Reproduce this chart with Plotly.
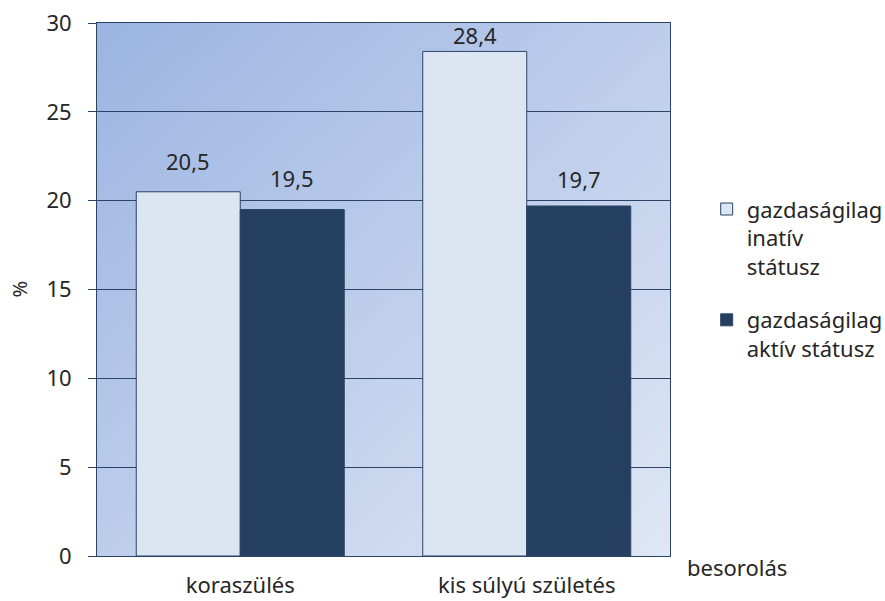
import base64
import plotly.graph_objects as go

# --- data ---------------------------------------------------------------
categories = ["koraszülés", "kis súlyú születés"]
inactive = [20.5, 28.4]   # gazdaságilag inaktív státusz
active = [19.5, 19.7]     # gazdaságilag aktív státusz
series_names = ["gazdaságilag<br>inatív<br>státusz", "gazdaságilag<br>aktív státusz"]
y_ticks = [0, 5, 10, 15, 20, 25, 30]

# --- styling --------------------------------------------------------------
FONT = "Noto Sans"
FS = 22
TEXT = "#262626"
EDGE = "#2b4466"
LIGHT = "#dce6f2"
DARK = "#243f60"
BARGAP = 0.274
# vertical distance (px) of each value label above its bar top
label_lift = {0: [31, 16.5], 1: [32, 27]}

svg = (
    '<svg xmlns="http://www.w3.org/2000/svg" width="200" height="200" '
    'preserveAspectRatio="none"><defs><linearGradient id="g" x1="0" y1="0" '
    'x2="1" y2="1"><stop offset="0" stop-color="#9bb4e1"/>'
    '<stop offset="1" stop-color="#dfe7f5"/></linearGradient></defs>'
    '<rect width="200" height="200" fill="url(#g)"/></svg>'
)
gradient_uri = "data:image/svg+xml;base64," + base64.b64encode(svg.encode()).decode()

fig = go.Figure()
for k, (vals, name, color) in enumerate([(inactive, series_names[0], LIGHT),
                                         (active, series_names[1], DARK)]):
    fig.add_trace(go.Bar(
        x=categories, y=vals, name=name, legendgroup=f"g{k}",
        marker=dict(color=color, line=dict(color=EDGE, width=1)),
        hoverinfo="x+y",
    ))

# value labels above the bars
half = (1 - BARGAP) / 4
annotations = []
for s, vals in enumerate([inactive, active]):
    for i, v in enumerate(vals):
        annotations.append(dict(
            x=i + (-half if s == 0 else half), y=v, xref="x", yref="y",
            text=f"{v:.1f}".replace(".", ","), showarrow=False,
            yanchor="middle", yshift=label_lift[s][i],
            font=dict(family=FONT, size=FS, color=TEXT),
        ))

annotations.append(dict(
    x=1.027, y=-0.021, xref="paper", yref="paper", xanchor="left", yanchor="middle",
    text="besorolás", showarrow=False, font=dict(family=FONT, size=FS, color=TEXT),
))
annotations.append(dict(
    x=-0.136, y=0.5, xref="paper", yref="paper", xanchor="center", yanchor="middle",
    text="%", textangle=-90, showarrow=False, font=dict(family=FONT, size=20, color=TEXT),
))

fig.update_layout(
    width=885, height=601,
    margin=dict(l=97, r=215, t=23, b=45, autoexpand=False),
    paper_bgcolor="white", plot_bgcolor="rgba(0,0,0,0)",
    barmode="group", bargap=BARGAP, bargroupgap=0,
    font=dict(family=FONT, size=FS, color=TEXT),
    images=[dict(source=gradient_uri, xref="paper", yref="paper", x=0, y=1,
                 sizex=1, sizey=1, sizing="stretch", layer="below")],
    legend=dict(x=1.064, y=0.69, xanchor="left", yanchor="top",
                font=dict(family=FONT, size=FS, color=TEXT),
                bgcolor="rgba(0,0,0,0)", traceorder="grouped", tracegroupgap=22,
                itemwidth=30, valign="top"),
    annotations=annotations,
    showlegend=True,
)
fig.update_yaxes(
    range=[0, 30], tickvals=y_ticks, ticks="outside", ticklen=8, tickcolor=EDGE,
    showgrid=True, gridcolor=EDGE, gridwidth=1, zeroline=False,
    showline=True, linecolor=EDGE, linewidth=1, mirror=True, automargin=False,
    ticklabelstandoff=12, tickfont=dict(family=FONT, size=FS, color=TEXT),
)
fig.update_xaxes(
    ticks="", showline=True, linecolor=EDGE, linewidth=1, mirror=True, automargin=False,
    ticklabelstandoff=10, tickfont=dict(family=FONT, size=FS, color=TEXT),
)

fig.write_html("out.html")
